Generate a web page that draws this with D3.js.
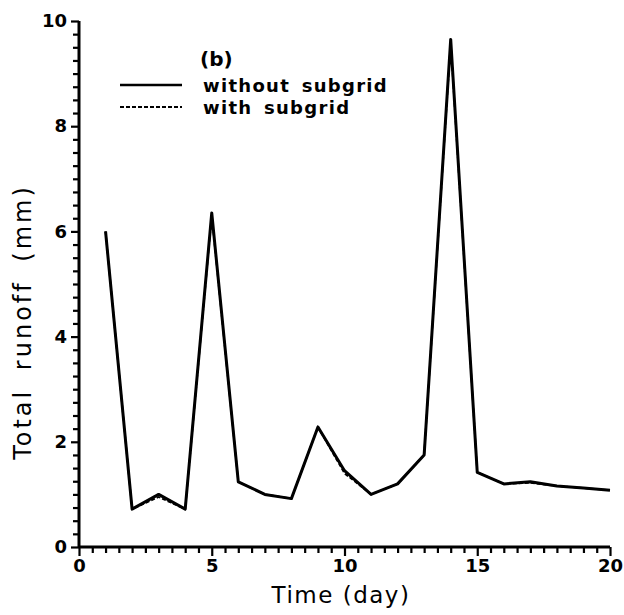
<!DOCTYPE html>
<html><head><meta charset="utf-8">
<script src="https://cdn.jsdelivr.net/npm/d3@7/dist/d3.min.js"></script>
<style>body{margin:0;background:#fff}svg{display:block}</style>
</head><body>
<svg id="c" width="624" height="615"></svg>
<script>
const days = [1,2,3,4,5,6,7,8,9,10,11,12,13,14,15,16,17,18,19,20];
const withoutSubgrid = [6.0,0.72,1.0,0.72,6.35,1.24,1.0,0.92,2.28,1.45,1.0,1.2,1.75,9.65,1.42,1.2,1.24,1.16,1.12,1.08];
const withSubgrid    = [6.0,0.72,0.95,0.72,6.3,1.24,1.0,0.92,2.28,1.4,1.0,1.2,1.75,9.6,1.42,1.2,1.22,1.16,1.12,1.08];
const xTicks = [0,5,10,15,20];
const yTicks = [0,2,4,6,8,10];
const seriesNames = ["without subgrid","with subgrid"];

const svg = d3.select("#c");
const x = d3.scaleLinear().domain([0,20]).range([79,610]);
const y = d3.scaleLinear().domain([0,10]).range([547,21]);
const font = "'DejaVu Sans', sans-serif";

const xMinor = d3.range(0,20.01,0.5).filter(v=>!xTicks.includes(v));
const yMinor = d3.range(0,10.01,0.25).filter(v=>!yTicks.includes(Math.round(v*100)/100));

const gx = svg.append("g").attr("transform",`translate(0,${y(0)})`)
  .call(d3.axisBottom(x).tickValues(xTicks).tickSize(9).tickPadding(3).tickFormat(d3.format("d")));
const gxm = svg.append("g").attr("transform",`translate(0,${y(0)})`)
  .call(d3.axisBottom(x).tickValues(xMinor).tickSize(6).tickFormat(""));
const gy = svg.append("g").attr("transform",`translate(${x(0)},0)`)
  .call(d3.axisLeft(y).tickValues(yTicks).tickSize(8).tickPadding(4).tickFormat(d3.format("d")));
const gym = svg.append("g").attr("transform",`translate(${x(0)},0)`)
  .call(d3.axisLeft(y).tickValues(yMinor).tickSize(6).tickFormat(""));

[gx,gxm,gy,gym].forEach(g=>{
  g.selectAll(".domain").attr("stroke","#000").attr("stroke-width",3);
  g.selectAll(".tick line").attr("stroke","#000").attr("stroke-width",2.2);
  g.selectAll("text").attr("fill","#000").style("font-family",font).style("font-weight","bold").style("font-size","18px");
});
gx.selectAll(".domain").attr("d",`M${x(0)},0H${x(20)}`);
gxm.select(".domain").remove();
gym.select(".domain").remove();
gy.selectAll(".domain").attr("d",`M0,${y(0)}V${y(10)}`);

// axis titles
svg.append("text").attr("x",341).attr("y",603).attr("text-anchor","middle").attr("fill","#000")
  .style("font-family",font).style("font-size","23px").style("letter-spacing","1.5px").text("Time  (day)");
svg.append("text").attr("transform","translate(31,322) rotate(-90)").attr("text-anchor","middle").attr("fill","#000")
  .style("font-family",font).style("font-size","24px").style("letter-spacing","3px").style("word-spacing","8px").text("Total  runoff  (mm)");

// lines
const line = d3.line().x((d,i)=>x(days[i])).y(d=>y(d));
svg.append("path").datum(withoutSubgrid).attr("d",line).attr("fill","none")
  .attr("stroke","#000").attr("stroke-width",3).attr("stroke-linejoin","round");
svg.append("path").datum(withSubgrid).attr("d",line).attr("fill","none")
  .attr("stroke","#000").attr("stroke-width",1.8).attr("stroke-dasharray","4,2");

// legend
const lg = svg.append("g").style("font-family",font).style("font-weight","bold").style("font-size","18px").attr("fill","#000");
lg.append("text").attr("x",200).attr("y",66).style("font-size","20px").text("(b)");
lg.append("line").attr("x1",120).attr("x2",182).attr("y1",85).attr("y2",85).attr("stroke","#000").attr("stroke-width",2.5);
lg.append("text").attr("x",203).attr("y",92).style("letter-spacing","1.3px").style("word-spacing","4px").text(seriesNames[0]);
lg.append("line").attr("x1",120).attr("x2",182).attr("y1",107).attr("y2",107).attr("stroke","#000").attr("stroke-width",1.8).attr("stroke-dasharray","4,2");
lg.append("text").attr("x",203).attr("y",114).style("letter-spacing","1.3px").style("word-spacing","4px").text(seriesNames[1]);
</script>
</body></html>
